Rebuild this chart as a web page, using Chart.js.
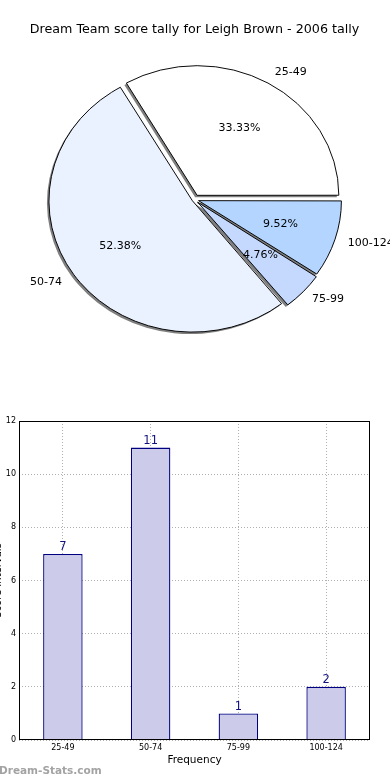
<!DOCTYPE html>
<html lang="en">
<head>
    <meta charset="UTF-8">
    <meta name="viewport" content="width=device-width, initial-scale=1.0">
    <title>Dream Team score tally</title>
    <script src="https://cdn.jsdelivr.net/npm/chart.js"></script>
    <style>
        body {
            margin: 0;
            background: #ffffff;
            font-family: "DejaVu Sans", sans-serif;
        }
        .page {
            position: relative;
            width: 390px;
            height: 780px;
            overflow: hidden;
        }
        #pieChart { position: absolute; left: 0; top: 0; }
        #barChart { position: absolute; left: 0; top: 400px; }
        .watermark {
            position: absolute;
            left: -1px;
            top: 764px;
            font-size: 10.5px;
            line-height: 12px;
            font-weight: bold;
            color: #a3a3a3;
        }
    </style>
</head>
<body>
<div class="page">
    <canvas id="pieChart" width="390" height="400"></canvas>
    <canvas id="barChart" width="390" height="380"></canvas>
    <div class="watermark">Dream-Stats.com</div>
</div>

<script>
    const chartTitle = "Dream Team score tally for Leigh Brown - 2006 tally";
    const categories = ["25-49", "50-74", "75-99", "100-124"];
    const tallies = [7, 11, 1, 2];
    const sliceColors = ["#ffffff", "#ebf2ff", "#c5d9ff", "#b3d5ff"];
    const sliceOffsets = [21, 10, 17, 17];   // explode; chart.js grows big slices, so 50-74 gets less
    const yTicks = [0, 2, 4, 6, 8, 10, 12];
    const xTitle = "Frequency";
    const yTitle = "Score Intervals";

    const squash = 0.915;   // pie is drawn a bit flatter than a circle
    const total = tallies.reduce((a, b) => a + b, 0);

    // matplotlib goes counter-clockwise from 3 o'clock, chart.js clockwise
    const pieCats = categories.slice().reverse();
    const pieVals = tallies.slice().reverse();
    const pieColors = sliceColors.slice().reverse();
    const pieOffsets = sliceOffsets.slice().reverse();

    let origStroke = null;

    const squashPie = {
        id: "squashPie",
        beforeDatasetsDraw(chart) {
            const ctx = chart.ctx;
            const a = chart.chartArea;
            const cx = (a.left + a.right) / 2, cy = (a.top + a.bottom) / 2;
            ctx.save();
            ctx.translate(cx, cy);
            ctx.scale(1, squash);
            ctx.translate(-cx, -cy);
            ctx.shadowColor = "rgba(0,0,0,0.5)";
            ctx.shadowOffsetX = -2;
            ctx.shadowOffsetY = 2;
            ctx.shadowBlur = 0;
            // only the fills cast a shadow, not the outlines
            origStroke = ctx.stroke;
            ctx.stroke = function () {
                const c = this.shadowColor;
                this.shadowColor = "rgba(0,0,0,0)";
                origStroke.apply(this, arguments);
                this.shadowColor = c;
            };
        },
        afterDatasetsDraw(chart) {
            delete chart.ctx.stroke;
            chart.ctx.restore();
        }
    };

    const pieLabels = {
        id: "pieLabels",
        afterDatasetsDraw(chart) {
            const ctx = chart.ctx;
            const arcs = chart.getDatasetMeta(0).data;
            ctx.save();
            ctx.fillStyle = "#000";
            ctx.font = "11px 'DejaVu Sans'";
            ctx.textBaseline = "middle";
            arcs.forEach((arc, i) => {
                const mid = (arc.startAngle + arc.endAngle) / 2;
                const shift = 5.25;
                const r = arc.outerRadius;
                const cos = Math.cos(mid), sin = Math.sin(mid);
                const lr = r * 1.1 + shift;
                ctx.textAlign = cos >= 0 ? "left" : "right";
                ctx.fillText(pieCats[i], arc.x + cos * lr, arc.y + sin * lr * squash);
                const pr = r * 0.6 + shift;
                ctx.textAlign = "center";
                ctx.fillText((pieVals[i] / total * 100).toFixed(2) + "%", arc.x + cos * pr, arc.y + sin * pr * squash);
            });
            ctx.restore();
        }
    };

    new Chart(document.getElementById("pieChart"), {
        type: "pie",
        data: {
            labels: pieCats,
            datasets: [{
                data: pieVals,
                backgroundColor: pieColors,
                borderColor: "#000000",
                borderWidth: 1,
                offset: pieOffsets,
                radius: 141,
                clip: false
            }]
        },
        options: {
            responsive: false,
            animation: false,
            events: [],
            rotation: 90,
            layout: { padding: { left: 0, right: 1, top: 0, bottom: 51 } },
            plugins: {
                legend: { display: false },
                tooltip: { enabled: false },
                title: {
                    display: true,
                    text: chartTitle,
                    color: "#000",
                    font: { family: "DejaVu Sans", size: 12.7, weight: "normal" },
                    padding: { top: 22, bottom: 12.76 }
                }
            }
        },
        plugins: [squashPie, pieLabels]
    });

    const barExtras = {
        id: "barExtras",
        afterDatasetsDraw(chart) {
            const ctx = chart.ctx;
            const bars = chart.getDatasetMeta(0).data;
            ctx.save();
            ctx.fillStyle = "#10107f";
            ctx.font = "11.5px 'DejaVu Sans'";
            ctx.textAlign = "center";
            ctx.textBaseline = "alphabetic";
            bars.forEach((bar, i) => {
                ctx.fillText(String(tallies[i]), bar.x, bar.y - 3.5);
            });
            ctx.restore();
        },
        afterDraw(chart) {
            const ctx = chart.ctx;
            const a = chart.chartArea;
            ctx.save();
            ctx.strokeStyle = "#000";
            ctx.lineWidth = 1;
            ctx.strokeRect(Math.round(a.left) + 0.5, Math.round(a.top) + 0.5,
                Math.round(a.right - a.left) - 1, Math.round(a.bottom - a.top) - 1);
            // y title, mostly cut off at the left edge like the original
            ctx.translate(1, (a.top + a.bottom) / 2);
            ctx.rotate(-Math.PI / 2);
            ctx.fillStyle = "#000";
            ctx.font = "10px 'DejaVu Sans'";
            ctx.textAlign = "center";
            ctx.textBaseline = "alphabetic";
            ctx.fillText(yTitle, 0, 0);
            ctx.restore();
        }
    };

    new Chart(document.getElementById("barChart"), {
        type: "bar",
        data: {
            labels: categories,
            datasets: [{
                data: tallies,
                backgroundColor: "#ccccea",
                borderColor: "#000080",
                borderWidth: 1.3,
                barPercentage: 0.45,
                categoryPercentage: 1
            }]
        },
        options: {
            responsive: false,
            animation: false,
            events: [],
            layout: { padding: { left: 0, right: 20, top: 21, bottom: 0 } },
            plugins: {
                legend: { display: false },
                tooltip: { enabled: false }
            },
            scales: {
                x: {
                    z: 1,
                    grid: { offset: false, color: "#b0b0b0", drawTicks: false, lineWidth: 1 },
                    border: { display: false, dash: [1, 2] },
                    ticks: { padding: 3, color: "#000", font: { family: "DejaVu Sans", size: 8 } },
                    title: {
                        display: true,
                        text: xTitle,
                        color: "#000",
                        font: { family: "DejaVu Sans", size: 10.5 },
                        padding: { top: 0, bottom: 13.7 }
                    },
                    afterFit: s => { s.height = 40; }
                },
                y: {
                    z: 1,
                    min: yTicks[0],
                    max: yTicks[yTicks.length - 1],
                    grid: { color: "#b0b0b0", drawTicks: false, lineWidth: 1 },
                    border: { display: false, dash: [1, 2] },
                    ticks: {
                        stepSize: yTicks[1] - yTicks[0],
                        padding: 3,
                        color: "#000",
                        font: { family: "DejaVu Sans", size: 8 }
                    },
                    afterFit: s => { s.width = 19; }
                }
            }
        },
        plugins: [barExtras]
    });
</script>
</body>
</html>
